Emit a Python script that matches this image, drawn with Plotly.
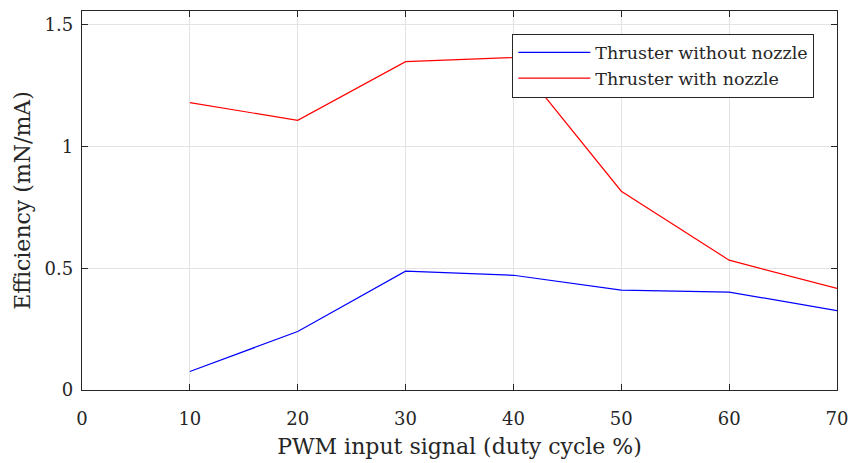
import plotly.graph_objects as go

duty = [10, 20, 30, 40, 50, 60, 70]
eff_without = [0.076, 0.240, 0.488, 0.471, 0.410, 0.402, 0.326]
eff_with = [1.180, 1.107, 1.348, 1.365, 0.816, 0.533, 0.417]
x_ticks = [0, 10, 20, 30, 40, 50, 60, 70]
y_ticks = [0, 0.5, 1, 1.5]
y_tick_text = ["0", "0.5", "1", "1.5"]

font_family = "DejaVu Serif, serif"
txt = "#262626"

fig = go.Figure()
fig.add_trace(go.Scatter(x=duty, y=eff_without, mode="lines", name="Thruster without nozzle",
                         line=dict(color="#0000ff", width=1.2)))
fig.add_trace(go.Scatter(x=duty, y=eff_with, mode="lines", name="Thruster with nozzle",
                         line=dict(color="#ff0000", width=1.2)))

axis_common = dict(showline=True, linecolor=txt, linewidth=1.3, mirror="ticks",
                   ticks="inside", ticklen=6, tickcolor=txt, tickwidth=1,
                   showgrid=True, gridcolor="#e3e3e3", gridwidth=1, zeroline=False,
                   automargin=False, ticklabeloverflow="allow",
                   tickfont=dict(family=font_family, size=18, color=txt))

fig.update_layout(
    width=848, height=463,
    margin=dict(l=82, r=11, t=11, b=73),
    paper_bgcolor="white", plot_bgcolor="white",
    font=dict(family=font_family, color=txt),
    xaxis=dict(range=[0, 70], tickvals=x_ticks, ticktext=[str(v) for v in x_ticks],
               ticklabelstandoff=12,
               title=dict(text="PWM input signal (duty cycle %)", font=dict(size=22, family=font_family, color=txt), standoff=10),
               **axis_common),
    yaxis=dict(range=[0, 1.556], tickvals=y_ticks, ticktext=y_tick_text,
               ticklabelstandoff=4,
               title=dict(text="Efficiency (mN/mA)", font=dict(size=22, family=font_family, color=txt), standoff=7),
               **axis_common),
    legend=dict(x=0.570, y=0.9405, xanchor="left", yanchor="top",
                bgcolor="white", bordercolor=txt, borderwidth=1,
                font=dict(family=font_family, size=17.5, color=txt),
                tracegroupgap=0, itemwidth=72),
    showlegend=True,
)

fig.write_html("out.html", config={"displayModeBar": False},
               post_script="document.body.style.margin='0px';document.body.style.overflow='hidden';")
